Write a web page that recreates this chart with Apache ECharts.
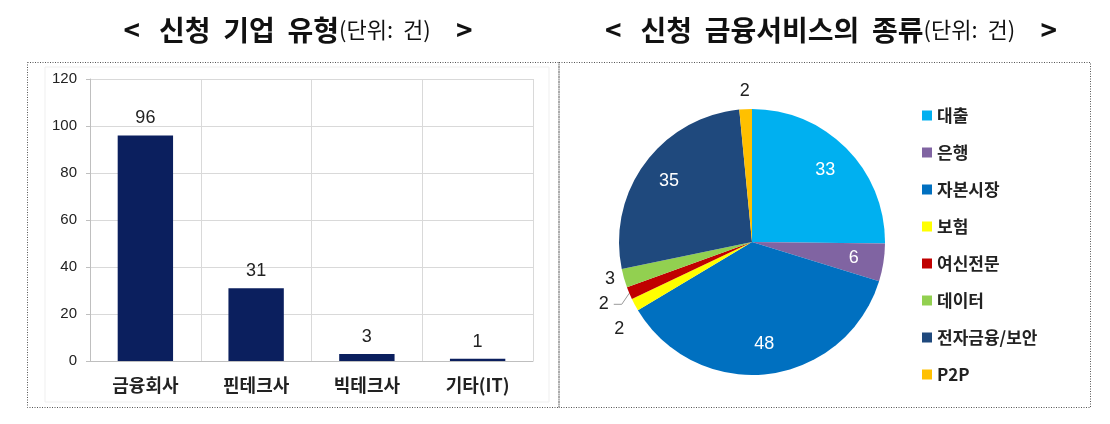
<!DOCTYPE html>
<html>
<head>
<meta charset="utf-8">
<script src="https://cdn.jsdelivr.net/npm/echarts@6/dist/echarts.min.js"></script>
<style>
html,body{margin:0;padding:0;background:#fff;}
#c{width:1110px;height:424px;}
</style>
</head>
<body>
<div id="c"></div>
<script>
// ---- data ----
const barCategories = ['금융회사', '핀테크사', '빅테크사', '기타(IT)'];
const barValues = [96, 31, 3, 1];
const yAxisMin = 0, yAxisMax = 120, yAxisStep = 20;

const pieNames = ['대출', '은행', '자본시장', '보험', '여신전문', '데이터', '전자금융/보안', 'P2P'];
const pieValues = [33, 6, 48, 2, 2, 3, 35, 2];
const pieColors = ['#00b0f0', '#8064a2', '#0070c0', '#ffff00', '#c00000', '#92d050', '#1f497d', '#ffc000'];

const leftTitle = '신청  기업  유형';
const rightTitle = '신청  금융서비스의  종류';
const unitText = '(단위:  건)';

// label placement groups (by name)
const ringLabelNames = ['P2P'];
const leaderLineNames = ['여신전문'];

// ---- chart ----
const KR = '"Noto Sans CJK KR", "Noto Sans", sans-serif';
const NUM = '"Liberation Sans", Arial, sans-serif';
const chart = echarts.init(document.getElementById('c'), null, {renderer: 'canvas'});

function titleRich() {
  return {
    b: {fontFamily: KR, fontWeight: 'bold', fontSize: 28, color: '#111', lineHeight: 34},
    n: {fontFamily: KR, fontWeight: 'normal', fontSize: 22, color: '#111', lineHeight: 34}
  };
}

const insideThreshold = 5;
const isSmall = i => pieValues[i] < insideThreshold;
const pieOuterData = pieNames.map((n, i) => ({
  name: n,
  value: pieValues[i],
  itemStyle: {color: pieColors[i]},
  label: {show: isSmall(i) && ringLabelNames.indexOf(n) < 0},
  labelLine: leaderLineNames.indexOf(n) >= 0 ? {show: true, length: 8, length2: 8} : {show: false}
}));
const pieInnerData = pieNames.map((n, i) => ({
  name: n,
  value: pieValues[i],
  label: {show: !isSmall(i)}
}));
const pieRingData = pieNames.map((n, i) => ({
  name: n,
  value: pieValues[i],
  label: {show: ringLabelNames.indexOf(n) >= 0}
}));

const pieCenter = [752, 242];
const pieRadius = 133;

chart.setOption({
  animation: false,
  backgroundColor: '#fff',
  title: [
    {
      text: '{b|<   ' + leftTitle + '}{n|' + unitText + '}{b|    >}',
      left: 293, top: 8, textAlign: 'center',
      textStyle: {rich: titleRich()}
    },
    {
      text: '{b|<   ' + rightTitle + '}{n|' + unitText + '}{b|    >}',
      left: 826, top: 8, textAlign: 'center',
      textStyle: {rich: titleRich()}
    }
  ],
  graphic: [
    {type: 'rect', shape: {x: 45, y: 67, width: 504, height: 335},
      style: {fill: 'none', stroke: '#efefef', lineWidth: 1}, silent: true, z: -1},
    {type: 'rect', shape: {x: 27.5, y: 62.5, width: 531.5, height: 345},
      style: {fill: 'none', stroke: '#555', lineWidth: 1, lineDash: [1, 1.5]}, silent: true},
    {type: 'rect', shape: {x: 559, y: 62.5, width: 531.5, height: 345},
      style: {fill: 'none', stroke: '#555', lineWidth: 1, lineDash: [1, 1.5]}, silent: true}
  ],
  grid: {left: 90, top: 79, width: 443, height: 282, containLabel: false},
  xAxis: {
    type: 'category',
    data: barCategories,
    axisLine: {show: true, lineStyle: {color: '#bfbfbf'}},
    axisTick: {show: false},
    splitLine: {show: true, lineStyle: {color: '#d9d9d9'}},
    axisLabel: {fontFamily: KR, fontSize: 18, fontWeight: 'bold', color: '#222', margin: 15}
  },
  yAxis: {
    type: 'value',
    min: yAxisMin, max: yAxisMax, interval: yAxisStep,
    axisLine: {show: true, lineStyle: {color: '#bfbfbf'}},
    axisTick: {show: true, length: 4, lineStyle: {color: '#bfbfbf'}},
    splitLine: {show: true, lineStyle: {color: '#d9d9d9'}},
    axisLabel: {fontFamily: NUM, fontSize: 15, color: '#222', margin: 13}
  },
  legend: {
    orient: 'vertical',
    left: 922, top: 107, padding: 0,
    itemWidth: 10, itemHeight: 10, itemGap: 20,
    icon: 'rect',
    data: pieNames,
    textStyle: {fontFamily: KR, fontSize: 17, fontWeight: 'bold', color: '#222', lineHeight: 16}
  },
  series: [
    {
      type: 'bar',
      data: barValues,
      barWidth: '50%',
      itemStyle: {color: '#0b1f5e'},
      label: {show: true, position: 'top', distance: 8, fontFamily: NUM, fontSize: 18, color: '#222'}
    },
    {
      type: 'pie',
      center: pieCenter,
      radius: [0, pieRadius],
      startAngle: 90,
      clockwise: true,
      avoidLabelOverlap: true,
      data: pieOuterData,
      label: {position: 'outside', formatter: '{c}', fontFamily: NUM, fontSize: 18, color: '#222', lineHeight: 23},
      labelLine: {length: 4, length2: 2, lineStyle: {color: '#999', width: 1}},
      emphasis: {disabled: true}
    },
    {
      type: 'pie',
      center: pieCenter,
      radius: [67, pieRadius],
      startAngle: 90,
      clockwise: true,
      silent: true,
      data: pieInnerData,
      itemStyle: {color: 'rgba(0,0,0,0)'},
      label: {position: 'inside', formatter: '{c}', fontFamily: NUM, fontSize: 18, color: '#fff'},
      labelLine: {show: false},
      emphasis: {disabled: true}
    },
    {
      type: 'pie',
      center: pieCenter,
      radius: [pieRadius, pieRadius + 30],
      startAngle: 90,
      clockwise: true,
      silent: true,
      data: pieRingData,
      itemStyle: {color: 'rgba(0,0,0,0)'},
      label: {position: 'inside', formatter: '{c}', fontFamily: NUM, fontSize: 18, color: '#222'},
      labelLine: {show: false},
      emphasis: {disabled: true}
    }
  ]
});
</script>
</body>
</html>
